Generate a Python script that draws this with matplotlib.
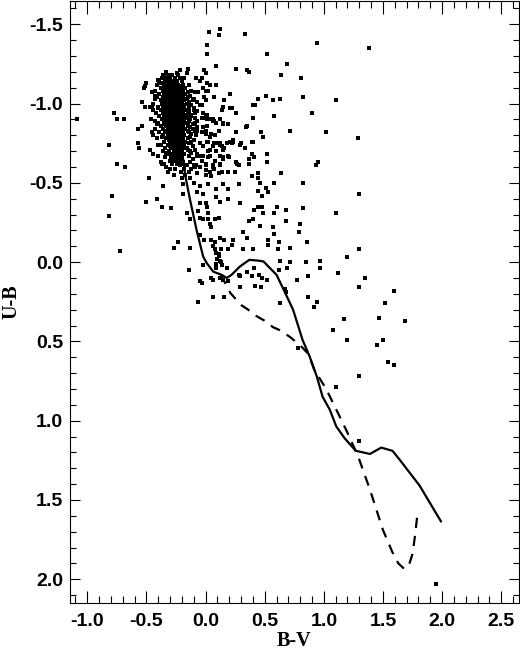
import matplotlib
matplotlib.use("Agg")
import matplotlib.pyplot as plt
from matplotlib.ticker import MultipleLocator, FormatStrFormatter

# ---- intrinsic colour sequences ----
ms_bv = [-0.33, -0.30, -0.24, -0.20, -0.17, -0.13, -0.075, -0.02, 0.01, 0.065, 0.135,
         0.18, 0.22, 0.29, 0.37, 0.44, 0.49, 0.60, 0.655, 0.74, 0.82, 0.88, 0.94,
         0.99, 1.05, 1.105, 1.175, 1.27, 1.39, 1.485, 1.58, 1.64, 1.81, 1.99]
ms_ub = [-1.20, -1.11, -0.90, -0.71, -0.54, -0.39, -0.20, -0.035, 0.006, 0.06, 0.08,
         0.10, 0.08, 0.028, -0.014, -0.01, -0.004, 0.08, 0.165, 0.30, 0.49, 0.595, 0.72,
         0.85, 0.93, 1.036, 1.11, 1.19, 1.21, 1.17, 1.19, 1.245, 1.41, 1.635]

gi_bv = [0.13, 0.21, 0.30, 0.36, 0.43, 0.50, 0.57, 0.63, 0.71, 0.76, 0.82, 0.87, 0.92,
         1.02, 1.19, 1.29, 1.39, 1.50, 1.58, 1.63, 1.68, 1.72, 1.75, 1.77, 1.79]
gi_ub = [0.08, 0.195, 0.27, 0.30, 0.34, 0.37, 0.41, 0.43, 0.47, 0.50, 0.54, 0.58, 0.68,
         0.80, 1.06, 1.225, 1.435, 1.69, 1.83, 1.90, 1.935, 1.91, 1.84, 1.73, 1.60]

# ---- dense cluster core: (U-B row, list of B-V values) ----
core_rows = [
    (-1.20, [-0.33]),
    (-1.18, [-0.35, -0.31, -0.28, -0.23]),
    (-1.16, [-0.37, -0.33, -0.30, -0.26, -0.22, -0.18]),
    (-1.14, [-0.39, -0.34, -0.31, -0.29, -0.26, -0.24, -0.20]),
    (-1.13, [-0.32, -0.28, -0.25]),
    (-1.12, [-0.41, -0.35, -0.30, -0.27, -0.23, -0.19, -0.14]),
    (-1.11, [-0.33, -0.29, -0.26, -0.21]),
    (-1.10, [-0.38, -0.34, -0.31, -0.28, -0.25, -0.22, -0.17]),
    (-1.09, [-0.32, -0.29, -0.27, -0.24, -0.20]),
    (-1.08, [-0.43, -0.36, -0.33, -0.30, -0.28, -0.26, -0.23, -0.19, -0.12]),
    (-1.07, [-0.34, -0.31, -0.27, -0.25, -0.21, -0.15, -0.09]),
    (-1.06, [-0.39, -0.35, -0.32, -0.29, -0.26, -0.24, -0.22, -0.17]),
    (-1.05, [-0.33, -0.30, -0.28, -0.25, -0.23, -0.19, -0.13]),
    (-1.04, [-0.41, -0.36, -0.34, -0.31, -0.29, -0.27, -0.24, -0.21, -0.15]),
    (-1.03, [-0.33, -0.30, -0.26, -0.23, -0.20, -0.16, -0.10]),
    (-1.02, [-0.38, -0.35, -0.32, -0.29, -0.27, -0.25, -0.22, -0.18, -0.11]),
    (-1.01, [-0.34, -0.31, -0.28, -0.26, -0.24, -0.20, -0.14, -0.07]),
    (-1.00, [-0.44, -0.37, -0.33, -0.30, -0.28, -0.25, -0.23, -0.21, -0.16]),
    (-0.99, [-0.35, -0.32, -0.29, -0.27, -0.24, -0.22, -0.19, -0.12]),
    (-0.98, [-0.40, -0.36, -0.31, -0.28, -0.26, -0.23, -0.20, -0.14]),
    (-0.97, [-0.34, -0.30, -0.27, -0.25, -0.22, -0.18, -0.10]),
    (-0.96, [-0.38, -0.33, -0.31, -0.29, -0.26, -0.24, -0.21, -0.17, -0.10]),
    (-0.95, [-0.35, -0.32, -0.28, -0.25, -0.23, -0.19, -0.14, -0.07]),
    (-0.94, [-0.42, -0.36, -0.33, -0.30, -0.27, -0.24, -0.22, -0.20, -0.15]),
    (-0.93, [-0.34, -0.31, -0.29, -0.26, -0.23, -0.18, -0.12]),
    (-0.92, [-0.39, -0.35, -0.32, -0.28, -0.25, -0.23, -0.21, -0.16, -0.12]),
    (-0.91, [-0.33, -0.30, -0.27, -0.24, -0.20, -0.15, -0.09]),
    (-0.90, [-0.46, -0.37, -0.34, -0.31, -0.28, -0.26, -0.23, -0.21, -0.18, -0.13]),
    (-0.89, [-0.33, -0.29, -0.25, -0.22, -0.19, -0.14, -0.07]),
    (-0.88, [-0.40, -0.35, -0.32, -0.30, -0.27, -0.24, -0.22, -0.17, -0.09]),
    (-0.87, [-0.34, -0.31, -0.28, -0.25, -0.20, -0.15, -0.11]),
    (-0.86, [-0.38, -0.33, -0.30, -0.27, -0.25, -0.23, -0.21, -0.15]),
    (-0.85, [-0.32, -0.29, -0.26, -0.24, -0.19, -0.13, -0.07]),
    (-0.84, [-0.43, -0.36, -0.31, -0.28, -0.26, -0.23, -0.20, -0.17, -0.11]),
    (-0.83, [-0.33, -0.30, -0.27, -0.24, -0.21, -0.15, -0.09]),
    (-0.82, [-0.39, -0.34, -0.29, -0.27, -0.25, -0.22, -0.19, -0.14]),
    (-0.81, [-0.31, -0.28, -0.26, -0.23, -0.20, -0.12]),
    (-0.80, [-0.36, -0.32, -0.29, -0.27, -0.24, -0.22, -0.18, -0.08]),
    (-0.79, [-0.30, -0.28, -0.25, -0.21, -0.13]),
    (-0.78, [-0.41, -0.33, -0.29, -0.26, -0.24, -0.22, -0.19, -0.15]),
    (-0.77, [-0.31, -0.27, -0.25, -0.23, -0.20, -0.10]),
    (-0.76, [-0.35, -0.30, -0.28, -0.25, -0.23, -0.21, -0.17, -0.12]),
    (-0.75, [-0.29, -0.26, -0.24, -0.22, -0.14]),
    (-0.74, [-0.38, -0.32, -0.28, -0.26, -0.24, -0.21, -0.18]),
    (-0.73, [-0.30, -0.27, -0.23, -0.20, -0.11]),
    (-0.72, [-0.34, -0.29, -0.26, -0.24, -0.22, -0.19, -0.16]),
    (-0.71, [-0.15, -0.09]),
    (-0.70, [-0.36, -0.31, -0.27, -0.25, -0.23, -0.20, -0.13]),
    (-0.69, [-0.12]),
    (-0.68, [-0.32, -0.28, -0.25, -0.22, -0.18]),
    (-0.67, [-0.14, -0.07]),
    (-0.66, [-0.34, -0.29, -0.26, -0.23, -0.20]),
    (-0.65, [-0.11]),
    (-0.64, [-0.30, -0.27, -0.24, -0.21]),
    (-0.63, [-0.19, -0.13]),
    (-0.62, [-0.28, -0.24]),
    (-0.61, [-0.22, -0.16, -0.08]),
    (-0.59, [-0.18, -0.12]),
    (-0.57, [-0.21, -0.14]),
    (-0.55, [-0.17]),
    (-0.53, [-0.20, -0.13]),
]

# ---- scattered stars (B-V, U-B) ----
field_pts = [
    (0.12, -1.47), (0.03, -1.45), (0.11, -1.43), (0.33, -1.44), (0.94, -1.38), (1.38, -1.35),
    (0.01, -1.37), (0.01, -1.31), (0.52, -1.31), (0.69, -1.25), (0.09, -1.24), (-0.01, -1.21),
    (0.26, -1.22), (0.35, -1.21), (0.37, -1.20), (0.64, -1.18), (0.81, -1.16), (0.01, -1.13),
    (0.04, -1.12), (0.09, -1.12), (0.21, -1.06), (0.51, -1.05), (0.44, -1.03), (0.57, -1.02),
    (0.63, -1.03), (0.82, -1.04), (1.10, -1.02), (0.16, -1.02), (0.00, -1.02), (0.40, -0.99),
    (0.21, -0.97), (0.14, -0.96), (0.26, -0.94), (0.90, -0.94), (0.58, -0.92), (0.40, -0.91),
    (0.06, -0.90), (0.12, -0.90), (0.15, -0.87), (0.19, -0.87), (0.34, -0.85), (0.71, -0.83),
    (1.02, -0.82), (0.26, -0.82), (0.11, -0.83), (0.49, -0.79), (1.29, -0.78), (0.40, -0.76),
    (0.23, -0.76), (0.29, -0.74), (0.33, -0.72), (0.14, -0.73), (0.09, -0.75), (0.52, -0.68),
    (0.41, -0.66), (0.37, -0.65), (0.20, -0.66), (0.15, -0.65), (0.52, -0.63), (0.95, -0.63),
    (0.93, -0.61), (0.26, -0.63), (0.37, -0.62), (0.28, -0.61),
    (0.64, -0.56), (0.44, -0.56), (0.44, -0.53), (0.39, -0.54), (0.46, -0.50), (0.58, -0.50),
    (0.82, -0.50), (0.51, -0.47), (0.44, -0.45), (0.53, -0.44), (1.30, -0.43), (0.48, -0.42),
    (0.82, -0.34), (0.44, -0.35), (0.48, -0.35), (0.41, -0.33), (0.49, -0.31), (0.58, -0.31),
    (1.10, -0.31), (0.40, -0.27), (0.68, -0.26), (0.80, -0.24), (0.46, -0.23), (0.57, -0.22),
    (0.79, -0.19), (0.58, -0.18), (0.53, -0.14), (0.62, -0.13), (0.86, -0.13), (0.71, -0.09),
    (0.40, -0.08), (0.61, -0.08), (1.30, -0.08), (1.20, -0.03), (0.63, -0.01), (0.85, 0.00),
    (0.97, -0.01), (0.71, 0.00), (0.97, 0.04), (0.62, 0.05), (0.69, 0.04), (1.12, 0.07),
    (0.41, 0.04), (0.45, 0.08), (0.39, 0.09), (0.48, 0.10), (0.87, 0.09), (0.77, 0.11),
    (1.35, 0.10), (0.42, 0.15), (0.47, 0.16), (0.67, 0.17), (1.30, 0.16), (1.59, 0.18),
    (0.87, 0.22), (0.94, 0.25), (0.63, 0.26), (0.92, 0.28), (1.52, 0.26), (1.47, 0.35),
    (1.69, 0.37), (1.17, 0.36), (1.08, 0.43), (1.20, 0.49), (1.50, 0.49), (1.45, 0.52),
    (0.78, 0.54), (1.54, 0.63), (1.59, 0.65), (1.30, 0.72), (1.10, 0.79), (1.30, 1.13),
    (1.95, 2.03),
    (-1.09, -0.90), (-0.77, -0.94), (-0.75, -0.90), (-0.69, -0.90), (-0.82, -0.74), (-0.57, -0.84),
    (-0.54, -0.86), (-0.57, -0.75), (-0.56, -0.72), (-0.75, -0.62), (-0.68, -0.60), (-0.79, -0.42),
    (-0.82, -0.29), (-0.72, -0.07), (-0.50, -0.38), (-0.41, -0.40), (-0.48, -0.53), (-0.37, -0.62),
    (-0.36, -0.48), (-0.29, -0.34), (-0.27, -0.09), (-0.23, -0.13), (-0.13, -0.09), (-0.14, 0.05),
    (-0.05, 0.12), (-0.03, 0.13), (-0.06, 0.25), (0.06, 0.22), (0.16, 0.22), (0.12, 0.10),
    (-0.50, -1.13), (-0.52, -1.10), (-0.43, -1.03), (-0.45, -0.98),
    (-0.38, -0.63), (-0.35, -0.62), (-0.32, -0.57), (-0.27, -0.55), (-0.26, -0.59), (-0.19, -0.62),
    (-0.10, -0.61), (-0.05, -0.60), (0.00, -0.62), (0.06, -0.61), (0.12, -0.62), (0.19, -0.57),
    (0.27, -0.62), (-0.07, -0.56), (0.00, -0.55), (0.05, -0.54), (0.11, -0.56), (0.02, -0.49),
    (0.09, -0.46), (0.19, -0.46), (0.15, -0.49), (0.28, -0.49), (-0.19, -0.49), (-0.10, -0.50),
    (-0.05, -0.48), (-0.19, -0.43), (-0.07, -0.44), (-0.02, -0.43), (0.09, -0.41), (0.19, -0.40),
    (0.29, -0.37), (-0.37, -0.35), (-0.05, -0.37), (0.00, -0.37), (0.01, -0.35), (0.12, -0.38),
    (-0.06, -0.32), (0.02, -0.31), (-0.16, -0.31), (-0.13, -0.27), (-0.05, -0.28), (-0.02, -0.27),
    (0.02, -0.27), (0.08, -0.27), (0.11, -0.28), (0.04, -0.24), (0.05, -0.22), (0.37, -0.26),
    (0.32, -0.19), (0.35, -0.15), (-0.05, -0.17), (-0.01, -0.14), (0.05, -0.14), (0.08, -0.13),
    (0.12, -0.15), (0.16, -0.14), (0.23, -0.14), (0.22, -0.11), (0.19, -0.08), (0.32, -0.08),
    (0.06, -0.10), (0.09, -0.06), (0.11, -0.04), (0.12, -0.01), (0.09, 0.01), (0.13, -0.08),
    (0.11, -0.05), (0.13, 0.00), (0.14, 0.02), (0.10, -0.02), (0.08, -0.08), (0.53, -0.11),
    (-0.02, 0.02), (0.09, 0.04), (0.18, 0.04), (0.05, 0.10), (0.06, 0.11), (0.15, 0.11),
    (0.19, 0.12), (0.28, 0.08), (0.29, 0.09), (0.35, 0.06), (0.29, 0.16), (0.68, 0.19),
    (0.52, 0.11), (0.60, -0.35), (0.68, -0.33),
    (-0.03, -1.16), (0.01, -1.13), (-0.02, -1.10), (0.02, -1.08), (-0.01, -1.04), (-0.03, -0.99),
    (0.00, -0.93), (-0.03, -0.91), (0.01, -0.90), (0.05, -0.90), (0.06, -0.89), (-0.02, -0.85),
    (0.01, -0.86), (-0.03, -0.82), (0.00, -0.81), (0.04, -0.79), (0.08, -0.80), (0.02, -0.76),
    (0.06, -0.73), (0.12, -0.74), (-0.02, -0.73), (0.02, -0.70), (0.09, -0.70), (-0.02, -0.67),
    (0.04, -0.67), (0.08, -0.64), (0.00, -0.61), (0.06, -0.60), (0.12, -0.61), (0.16, -0.72),
    (0.18, -0.75), (0.23, -0.77), (0.22, -0.75), (0.15, -0.66), (0.19, -0.67),
    (-0.51, -1.11), (-0.36, -1.18), (-0.24, -1.19), (-0.22, -1.21), (-0.15, -1.22),
    (-0.16, -1.19), (-0.08, -1.16), (-0.05, -1.14), (0.00, -1.19), (-0.40, -1.15), (-0.38, -1.13),
    (-0.45, -1.07), (-0.43, -1.05), (-0.54, -1.01), (-0.51, -0.98), (-0.47, -0.98), (-0.44, -0.96),
    (-0.40, -0.97), (-0.43, -0.89), (-0.41, -0.87), (-0.45, -0.82), (-0.44, -0.80), (-0.37, -0.79),
    (-0.40, -0.74), (-0.47, -0.71), (-0.44, -0.68), (-0.40, -0.67), (-0.34, -0.72), (-0.33, -0.69),
    (-0.33, -0.60), (-0.30, -0.59), (-0.06, -1.07), (-0.05, -0.99), (-0.09, -0.94),
    (-0.02, -0.91), (-0.07, -0.83), (-0.05, -0.75), (-0.07, -0.68), (-0.03, -0.64), (-0.09, -0.60),
    (0.00, -1.08), (0.07, -1.04), (0.42, -0.99), (0.15, -0.98), (0.22, -0.97), (-0.02, -0.94),
    (0.01, -0.93), (0.07, -0.89), (0.09, -0.88), (0.15, -0.88), (0.35, -0.86), (0.00, -0.83),
    (0.05, -0.81), (0.47, -0.82), (0.01, -0.76), (0.07, -0.75), (0.12, -0.75), (0.21, -0.76),
    (0.30, -0.75), (0.39, -0.76), (0.04, -0.71), (0.09, -0.70), (0.15, -0.71), (-0.05, -0.67),
    (0.02, -0.66), (0.12, -0.67), (0.39, -0.68), (-0.10, -0.61), (0.00, -0.58), (0.04, -0.57),
    (0.07, -0.59), (0.14, -0.57), (0.25, -0.57),
]

core_bv = [bv for ub, row in core_rows for bv in row]
core_ub = [ub for ub, row in core_rows for bv in row]
field_bv = [p[0] for p in field_pts]
field_ub = [p[1] for p in field_pts]

W, H = 520, 650
fig = plt.figure(figsize=(W / 100, H / 100), dpi=100)
ax = fig.add_axes([69.5 / W, 1 - 603 / H, (519 - 69.5) / W, 602.5 / H])

ax.plot(core_bv + field_bv, core_ub + field_ub, linestyle="none", marker="s",
        markersize=2.2, markeredgewidth=0, color="black")
ax.plot(ms_bv, ms_ub, color="black", lw=1.6, solid_joinstyle="round")
ln, = ax.plot(gi_bv, gi_ub, color="black", lw=1.6)
ln.set_dashes([4.6, 3.6])

ax.set_xlim(-1.15, 2.65)
ax.set_ylim(2.15, -1.65)
ax.xaxis.set_major_locator(MultipleLocator(0.5))
ax.xaxis.set_minor_locator(MultipleLocator(0.1))
ax.yaxis.set_major_locator(MultipleLocator(0.5))
ax.yaxis.set_minor_locator(MultipleLocator(0.1))
ax.xaxis.set_major_formatter(FormatStrFormatter("%.1f"))
ax.yaxis.set_major_formatter(FormatStrFormatter("%.1f"))

ax.tick_params(axis="x", which="major", direction="in", length=9, width=0.8,
               top=True, bottom=True, pad=7)
ax.tick_params(axis="x", which="minor", direction="in", length=4.7, width=0.8,
               top=True, bottom=True)
ax.tick_params(axis="y", which="major", direction="in", length=7.2, width=0.8,
               left=True, right=True, pad=4.5)
ax.tick_params(axis="y", which="minor", direction="in", length=4.2, width=0.8,
               left=True, right=True)
for s in ax.spines.values():
    s.set_linewidth(0.8)

for lab in ax.get_xticklabels() + ax.get_yticklabels():
    lab.set_fontfamily("Liberation Sans")
    lab.set_fontweight("bold")
    lab.set_fontsize(14)

fig.text(294 / W, 1 - 646 / H, "B-V", ha="center", va="baseline",
         fontfamily="Liberation Serif", fontweight="bold", fontsize=14.5)
ax.set_ylabel("U-B", fontfamily="Liberation Serif", fontweight="bold", fontsize=14.5, labelpad=6)

fig.savefig("out.png", dpi=100)
